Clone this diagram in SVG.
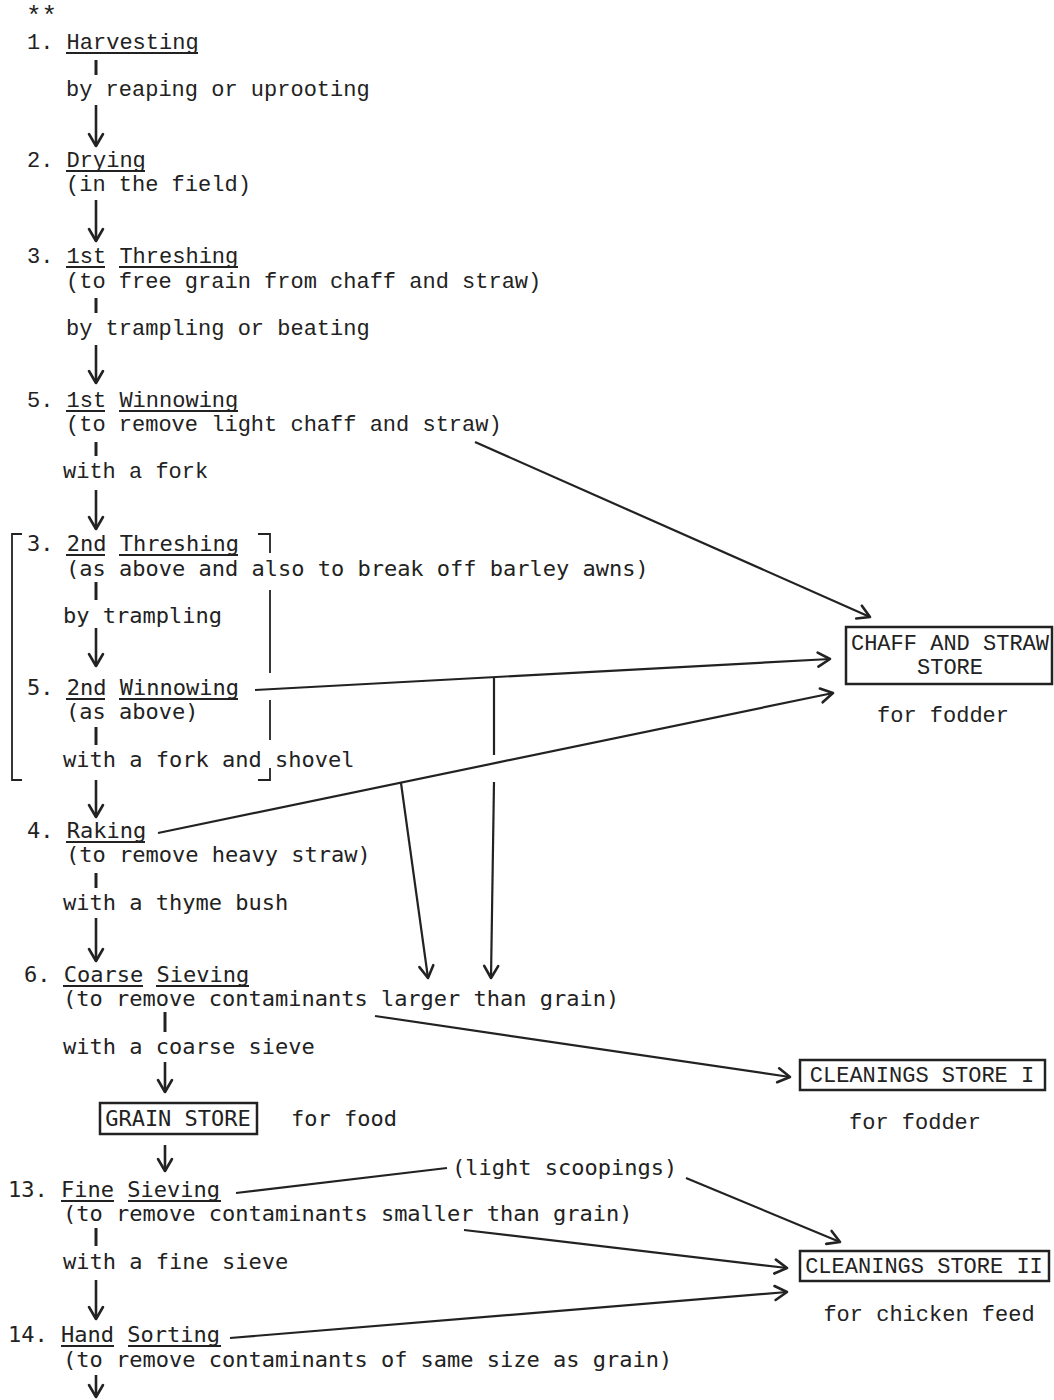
<svg xmlns="http://www.w3.org/2000/svg" width="1054" height="1400" viewBox="0 0 1054 1400">
<defs>
<style>
text{font-family:"Liberation Mono","Courier New",monospace;font-size:22px;fill:#222}
.g{font-family:"DejaVu Sans Mono","Liberation Mono",monospace;font-size:22px}
.m{text-anchor:middle}
.ul{stroke:#222;stroke-width:1.8}
.tk{stroke:#222;stroke-width:3}
.fl{stroke:#222;stroke-width:2.6;fill:none}
.cn{stroke:#222;stroke-width:2.2;fill:none}
.bx{fill:none;stroke:#222;stroke-width:2.5}
.br{stroke:#222;stroke-width:1.8;fill:none}
</style>
<marker id="ah" viewBox="-15 -9 18 18" refX="0" refY="0" markerWidth="18" markerHeight="18" markerUnits="userSpaceOnUse" orient="auto">
<path d="M-12,-7 L0,0 L-12,7" fill="none" stroke="#222" stroke-width="2.6" stroke-linecap="round" stroke-linejoin="round"/>
</marker>
</defs>
<rect width="1054" height="1400" fill="#fff"/>
<text x="26" y="24" style="font-size:26px">**</text>

<g id="step1">
<text x="27" y="49">1. Harvesting</text>
<line class="ul" x1="66" y1="53" x2="198" y2="53"/>
<line class="tk" x1="96" y1="60" x2="96" y2="75"/>
<text x="66" y="96">by reaping or uprooting</text>
</g>
<g id="step2">
<text x="27" y="167">2. Drying</text>
<line class="ul" x1="66" y1="171" x2="145" y2="171"/>
<text x="66" y="191">(in the field)</text>
</g>
<g id="step3a">
<text x="27" y="263">3. 1st Threshing</text>
<line class="ul" x1="66" y1="267" x2="105" y2="267"/>
<line class="ul" x1="119" y1="267" x2="238" y2="267"/>
<text x="66" y="288">(to free grain from chaff and straw)</text>
<line class="tk" x1="96" y1="298" x2="96" y2="313"/>
<text x="66" y="335">by trampling or beating</text>
</g>
<g id="step5a">
<text x="27" y="407">5. 1st Winnowing</text>
<line class="ul" x1="66" y1="411" x2="105" y2="411"/>
<line class="ul" x1="119" y1="411" x2="238" y2="411"/>
<text x="66" y="431">(to remove light chaff and straw)</text>
<line class="tk" x1="96" y1="442" x2="96" y2="456"/>
<text x="63" y="478">with a fork</text>
</g>

<g id="bracket">
<path class="br" d="M22,534 L12,534 L12,780 L22,780"/>
<path class="br" d="M258,534 L270,534 L270,553"/>
<line class="br" x1="270" y1="590" x2="270" y2="673"/>
<line class="br" x1="270" y1="700" x2="270" y2="740"/>
<path class="br" d="M270,768 L270,780 L258,780"/>
</g>
<g id="step3b">
<text class="g" x="27" y="551">3. 2nd Threshing</text>
<line class="ul" x1="66" y1="555" x2="105" y2="555"/>
<line class="ul" x1="119" y1="555" x2="238" y2="555"/>
<text class="g" x="66" y="576">(as above and also to break off barley awns)</text>
<line class="tk" x1="96" y1="582" x2="96" y2="600"/>
<text class="g" x="63" y="623">by trampling</text>
</g>
<g id="step5b">
<text class="g" x="27" y="695">5. 2nd Winnowing</text>
<line class="ul" x1="66" y1="699" x2="105" y2="699"/>
<line class="ul" x1="119" y1="699" x2="238" y2="699"/>
<text class="g" x="66" y="719">(as above)</text>
<line class="tk" x1="96" y1="727" x2="96" y2="745"/>
<text class="g" x="63" y="767">with a fork and shovel</text>
</g>
<g id="step4">
<text class="g" x="27" y="838">4. Raking</text>
<line class="ul" x1="66" y1="842" x2="145" y2="842"/>
<text class="g" x="66" y="862">(to remove heavy straw)</text>
<line class="tk" x1="96" y1="873" x2="96" y2="888"/>
<text class="g" x="63" y="910">with a thyme bush</text>
</g>
<g id="step6">
<text class="g" x="24" y="982">6. Coarse Sieving</text>
<line class="ul" x1="63" y1="986" x2="143" y2="986"/>
<line class="ul" x1="156" y1="986" x2="249" y2="986"/>
<text class="g" x="63" y="1006">(to remove contaminants larger than grain)</text>
<line class="tk" x1="165" y1="1012" x2="165" y2="1032"/>
<text class="g" x="63" y="1054">with a coarse sieve</text>
</g>
<g id="grainstore">
<rect class="bx" x="100" y="1103" width="157" height="31"/>
<text class="g m" x="178" y="1126">GRAIN STORE</text>
<text class="g" x="291" y="1126">for food</text>
</g>
<g id="step13">
<text class="g" x="8" y="1197">13. Fine Sieving</text>
<line class="ul" x1="61" y1="1201" x2="114" y2="1201"/>
<line class="ul" x1="128" y1="1201" x2="221" y2="1201"/>
<text class="g" x="452" y="1175">(light scoopings)</text>
<text class="g" x="63" y="1221">(to remove contaminants smaller than grain)</text>
<line class="tk" x1="96" y1="1228" x2="96" y2="1246"/>
<text class="g" x="63" y="1269">with a fine sieve</text>
</g>
<g id="step14">
<text class="g" x="8" y="1342">14. Hand Sorting</text>
<line class="ul" x1="61" y1="1346" x2="114" y2="1346"/>
<line class="ul" x1="128" y1="1346" x2="221" y2="1346"/>
<text class="g" x="63" y="1367">(to remove contaminants of same size as grain)</text>
</g>

<g id="chaffstore">
<rect class="bx" x="846" y="627" width="206" height="57"/>
<text class="m" x="950" y="650">CHAFF AND STRAW</text>
<text class="m" x="950" y="674">STORE</text>
<text class="m" x="943" y="722">for fodder</text>
</g>
<g id="cleanings1">
<rect class="bx" x="800" y="1060" width="245" height="30"/>
<text class="m" x="922" y="1082">CLEANINGS STORE I</text>
<text class="m" x="915" y="1129">for fodder</text>
</g>
<g id="cleanings2">
<rect class="bx" x="800" y="1251" width="249" height="30"/>
<text class="m" x="924" y="1273">CLEANINGS STORE II</text>
<text class="m" x="929" y="1321">for chicken feed</text>
</g>

<g id="connectors">
<line class="fl" x1="96" y1="105" x2="96" y2="146" marker-end="url(#ah)"/>
<line class="fl" x1="96" y1="200" x2="96" y2="241" marker-end="url(#ah)"/>
<line class="fl" x1="96" y1="345" x2="96" y2="383" marker-end="url(#ah)"/>
<line class="fl" x1="96" y1="490" x2="96" y2="529" marker-end="url(#ah)"/>
<line class="fl" x1="96" y1="628" x2="96" y2="666" marker-end="url(#ah)"/>
<line class="fl" x1="96" y1="780" x2="96" y2="817" marker-end="url(#ah)"/>
<line class="fl" x1="96" y1="918" x2="96" y2="961" marker-end="url(#ah)"/>
<line class="fl" x1="165" y1="1062" x2="165" y2="1092" marker-end="url(#ah)"/>
<line class="fl" x1="165" y1="1145" x2="165" y2="1171" marker-end="url(#ah)"/>
<line class="fl" x1="96" y1="1280" x2="96" y2="1319" marker-end="url(#ah)"/>
<line class="fl" x1="96" y1="1375" x2="96" y2="1397" marker-end="url(#ah)"/>
<line class="cn" x1="475" y1="442" x2="870" y2="617" marker-end="url(#ah)"/>
<line class="cn" x1="255" y1="690" x2="830" y2="659" marker-end="url(#ah)"/>
<line class="cn" x1="494" y1="677" x2="494" y2="755"/>
<line class="cn" x1="494" y1="782" x2="491" y2="978" marker-end="url(#ah)"/>
<line class="cn" x1="158" y1="833" x2="833" y2="693" marker-end="url(#ah)"/>
<line class="cn" x1="401" y1="783" x2="428" y2="978" marker-end="url(#ah)"/>
<line class="cn" x1="375" y1="1016" x2="790" y2="1077" marker-end="url(#ah)"/>
<line class="cn" x1="236" y1="1193" x2="447" y2="1168"/>
<line class="cn" x1="686" y1="1178" x2="840" y2="1242" marker-end="url(#ah)"/>
<line class="cn" x1="464" y1="1230" x2="787" y2="1268" marker-end="url(#ah)"/>
<line class="cn" x1="230" y1="1338" x2="787" y2="1292" marker-end="url(#ah)"/>
</g>
</svg>
